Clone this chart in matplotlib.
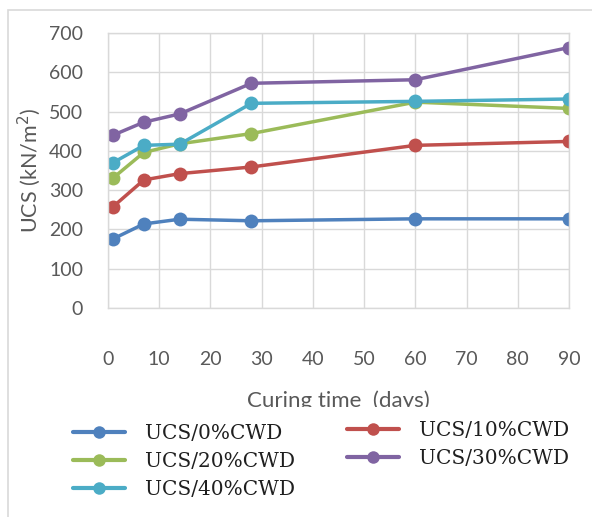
import matplotlib
matplotlib.use("Agg")
import matplotlib.pyplot as plt
from matplotlib.patches import Rectangle

days = [1, 7, 14, 28, 60, 90]
ucs_0 = [176, 214, 226, 222, 227, 227]
ucs_10 = [258, 326, 342, 359, 414, 424]
ucs_20 = [331, 396, 418, 444, 524, 508]
ucs_30 = [440, 473, 494, 572, 581, 663]
ucs_40 = [370, 414, 417, 521, 526, 532]
labels = ["UCS/0%CWD", "UCS/10%CWD", "UCS/20%CWD", "UCS/30%CWD", "UCS/40%CWD"]
x_ticks = [0, 10, 20, 30, 40, 50, 60, 70, 80, 90]
y_ticks = [0, 100, 200, 300, 400, 500, 600, 700]

colors = {"0": "#4F81BD", "10": "#C0504D", "20": "#9BBB59", "30": "#8064A2", "40": "#4BACC6"}

W, H = 592, 517
fig = plt.figure(figsize=(W / 100, H / 100), dpi=100)
fig.patch.set_facecolor("white")

ax = fig.add_axes([108 / W, 1 - 308 / H, (569 - 108) / W, (308 - 33) / H])

series = [("0", ucs_0), ("10", ucs_10), ("20", ucs_20), ("30", ucs_30), ("40", ucs_40)]
handles = {}
for (key, vals), lab in zip(series, labels):
    ln, = ax.plot(days, vals, color=colors[key], lw=2.5, marker="o", ms=10,
                  markeredgewidth=0, label=lab, solid_capstyle="round")
    handles[key] = ln

ax.set_xlim(0, 90)
ax.set_ylim(0, 700)
ax.set_xticks(x_ticks)
ax.set_yticks(y_ticks)
ax.grid(True, color="#d9d9d9", lw=1)
ax.set_axisbelow(True)
for s in ax.spines.values():
    s.set_color("#d9d9d9")
    s.set_linewidth(1)
ax.tick_params(length=0, labelsize=14, labelcolor="#595959")
ax.tick_params(axis="x", pad=31)
ax.tick_params(axis="y", pad=18)
for t in ax.get_xticklabels() + ax.get_yticklabels():
    t.set_fontfamily("Lato")

ax.set_ylabel("UCS (kN/m$^2$)", fontsize=15.5, color="#595959", family="Lato", labelpad=4)
ax.set_xlabel("Curing time  (days)", fontsize=16, color="#595959", family="Lato", labelpad=16)

# outer chart border
fig.patches.append(Rectangle((8 / W, -0.1), 1.2, 1 - 10 / H + 0.1, transform=fig.transFigure,
                             fill=False, edgecolor="#d9d9d9", lw=1.2, zorder=1))
# legend area background (covers bottom of the axis title)
fig.patches.append(Rectangle((10 / W, 0), 1, 1 - 407 / H, transform=fig.transFigure,
                             facecolor="white", edgecolor="none", zorder=2))

leg_kw = dict(frameon=False, loc="upper left", borderpad=0, borderaxespad=0,
              handlelength=2.6, handletextpad=1.0, labelspacing=0.45,
              prop={"family": "DejaVu Serif", "size": 14.5})
leg1 = fig.legend([handles["0"], handles["20"], handles["40"]],
                  [labels[0], labels[2], labels[4]],
                  bbox_to_anchor=(73 / W, 1 - 424 / H), **leg_kw)
leg2 = fig.legend([handles["10"], handles["30"]], [labels[1], labels[3]],
                  bbox_to_anchor=(347 / W, 1 - 421 / H), **leg_kw)
for lg in (leg1, leg2):
    lg.set_zorder(5)
    for h in lg.legend_handles:
        h.set_markersize(9)
        h.set_linewidth(3)
    for t in lg.get_texts():
        t.set_color("#1f1f1f")

fig.savefig("out.png", dpi=100, facecolor="white")
